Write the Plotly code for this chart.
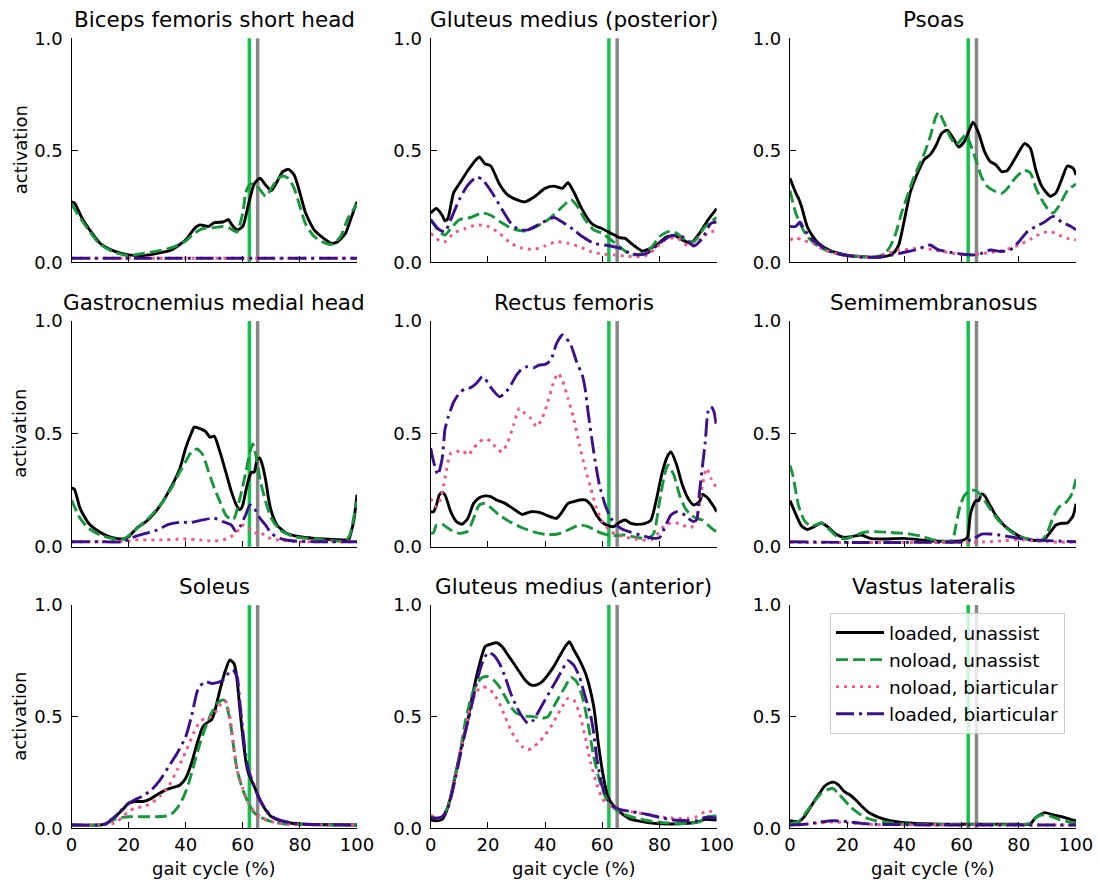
import plotly.graph_objects as go

# ---------------------------------------------------------------------------
# Muscle activation over the gait cycle (% of stride), four conditions.
# lu = loaded, unassist   nu = noload, unassist
# nb = noload, biarticular lb = loaded, biarticular
# ---------------------------------------------------------------------------

muscles = [
    "Biceps femoris short head", "Gluteus medius (posterior)", "Psoas",
    "Gastrocnemius medial head", "Rectus femoris", "Semimembranosus",
    "Soleus", "Gluteus medius (anterior)", "Vastus lateralis",
]
condition_names = ["loaded, unassist", "noload, unassist",
                   "noload, biarticular", "loaded, biarticular"]

# toe-off markers (% gait cycle): noload, loaded
toe_off_pct = [62.3, 65.2]

x_ticks = [0, 20, 40, 60, 80, 100]
y_ticks = [0.0, 0.5, 1.0]
y_tick_text = ["0.0", "0.5", "1.0"]

# --- Biceps femoris short head ---
bfsh_lu_x = [0, 1, 4, 10, 15, 20, 25, 30, 35, 40, 43, 45, 48, 50, 53, 55, 56, 58, 60, 62, 64, 66, 68, 70, 72, 74, 76, 78, 80, 82, 85, 88, 91, 93, 96, 98, 100]
bfsh_lu_y = [0.27, 0.265, 0.19, 0.085, 0.05, 0.033, 0.03, 0.04, 0.055, 0.10, 0.15, 0.167, 0.16, 0.177, 0.18, 0.19, 0.17, 0.145, 0.16, 0.26, 0.35, 0.375, 0.345, 0.32, 0.36, 0.405, 0.415, 0.39, 0.31, 0.22, 0.145, 0.11, 0.085, 0.09, 0.13, 0.2, 0.27]
bfsh_nu_x = [0, 4, 10, 15, 20, 25, 30, 35, 40, 43, 46, 50, 53, 55, 57, 58, 60, 61, 62, 63, 65, 68, 70, 72, 74, 76, 78, 80, 82, 85, 88, 91, 94, 97, 100]
bfsh_nu_y = [0.26, 0.18, 0.08, 0.045, 0.03, 0.04, 0.05, 0.065, 0.095, 0.13, 0.15, 0.155, 0.16, 0.155, 0.14, 0.135, 0.22, 0.31, 0.34, 0.35, 0.34, 0.295, 0.33, 0.37, 0.385, 0.375, 0.33, 0.25, 0.17, 0.115, 0.09, 0.08, 0.11, 0.2, 0.26]
bfsh_nb_x = [0, 50, 100]
bfsh_nb_y = [0.018, 0.018, 0.018]
bfsh_lb_x = [0, 50, 100]
bfsh_lb_y = [0.018, 0.018, 0.018]

# --- Gluteus medius (posterior) ---
gmedp_lu_x = [0, 2, 4, 5, 6, 8, 10, 13, 16, 17, 19, 21, 24, 27, 30, 33, 36, 40, 43, 46, 48, 50, 53, 56, 58, 60, 63, 66, 68, 70, 74, 76, 79, 82, 85, 88, 91, 94, 97, 100]
gmedp_lu_y = [0.22, 0.24, 0.21, 0.185, 0.195, 0.31, 0.35, 0.41, 0.46, 0.47, 0.44, 0.43, 0.35, 0.30, 0.28, 0.27, 0.29, 0.33, 0.34, 0.33, 0.355, 0.315, 0.235, 0.177, 0.16, 0.15, 0.13, 0.11, 0.107, 0.085, 0.05, 0.058, 0.077, 0.11, 0.12, 0.10, 0.085, 0.13, 0.19, 0.24]
gmedp_nu_x = [0, 3, 5, 7, 10, 14, 18, 21, 25, 29, 33, 37, 41, 45, 49, 51, 54, 57, 60, 63, 66, 70, 74, 77, 80, 83, 86, 89, 92, 96, 100]
gmedp_nu_y = [0.19, 0.137, 0.122, 0.15, 0.19, 0.20, 0.22, 0.21, 0.175, 0.147, 0.14, 0.16, 0.19, 0.235, 0.28, 0.255, 0.19, 0.145, 0.13, 0.10, 0.07, 0.033, 0.04, 0.063, 0.115, 0.137, 0.13, 0.10, 0.092, 0.16, 0.2]
gmedp_nb_x = [0, 3, 5, 8, 12, 16, 20, 24, 28, 32, 36, 40, 44, 48, 52, 56, 60, 64, 68, 72, 75, 78, 82, 86, 90, 94, 97, 100]
gmedp_nb_y = [0.13, 0.097, 0.092, 0.13, 0.15, 0.167, 0.16, 0.13, 0.085, 0.063, 0.058, 0.073, 0.092, 0.085, 0.07, 0.048, 0.037, 0.033, 0.028, 0.025, 0.028, 0.055, 0.10, 0.11, 0.073, 0.1, 0.13, 0.145]
gmedp_lb_x = [0, 3, 5, 7, 10, 13, 16, 18, 21, 25, 28, 31, 34, 38, 43, 46, 50, 53, 57, 62, 66, 70, 73, 76, 80, 84, 88, 92, 95, 98, 100]
gmedp_lb_y = [0.19, 0.145, 0.137, 0.19, 0.28, 0.345, 0.38, 0.37, 0.32, 0.235, 0.175, 0.145, 0.145, 0.17, 0.20, 0.18, 0.145, 0.115, 0.085, 0.075, 0.063, 0.04, 0.033, 0.043, 0.085, 0.118, 0.115, 0.073, 0.107, 0.174, 0.18]

# --- Psoas ---
psoas_lu_x = [0, 2, 3, 4, 6, 8, 10, 14, 18, 22, 26, 30, 33, 36, 38, 40, 42, 44, 47, 49, 51, 53, 55, 57, 59, 61, 63, 64, 66, 68, 70, 72, 74, 76, 79, 82, 84, 86, 88, 91, 93, 95, 97, 99, 100]
psoas_lu_y = [0.375, 0.31, 0.285, 0.25, 0.16, 0.115, 0.085, 0.052, 0.037, 0.028, 0.025, 0.022, 0.025, 0.04, 0.077, 0.19, 0.31, 0.38, 0.46, 0.48, 0.52, 0.575, 0.59, 0.555, 0.515, 0.54, 0.60, 0.625, 0.575, 0.495, 0.45, 0.435, 0.405, 0.41, 0.47, 0.53, 0.51, 0.41, 0.34, 0.295, 0.31, 0.37, 0.43, 0.42, 0.39]
psoas_nu_x = [0, 2, 4, 6, 10, 14, 20, 26, 30, 33, 35, 37, 39, 41, 43, 45, 47, 49, 51, 52, 54, 56, 58, 60, 61.5, 63, 65, 67, 69, 72, 74, 76, 79, 82, 84, 86, 88, 90, 92, 94, 97, 100]
psoas_nu_y = [0.32, 0.22, 0.16, 0.115, 0.07, 0.048, 0.03, 0.025, 0.025, 0.037, 0.07, 0.13, 0.22, 0.295, 0.37, 0.43, 0.487, 0.56, 0.65, 0.67, 0.62, 0.56, 0.525, 0.55, 0.57, 0.53, 0.457, 0.38, 0.338, 0.315, 0.308, 0.33, 0.38, 0.41, 0.40, 0.33, 0.28, 0.24, 0.22, 0.25, 0.32, 0.35]
psoas_nb_x = [0, 2, 4, 8, 12, 18, 24, 30, 34, 38, 42, 46, 50, 55, 60, 65, 70, 75, 80, 84, 88, 91, 94, 97, 100]
psoas_nb_y = [0.1, 0.11, 0.10, 0.085, 0.055, 0.033, 0.025, 0.025, 0.04, 0.055, 0.058, 0.067, 0.055, 0.045, 0.034, 0.037, 0.043, 0.055, 0.077, 0.103, 0.13, 0.137, 0.122, 0.107, 0.1]
psoas_lb_x = [0, 2, 3.5, 5, 8, 12, 16, 20, 26, 32, 36, 40, 44, 47, 49, 52, 56, 60, 64, 67, 70, 74, 77, 80, 83, 86, 89, 92, 95, 98, 100]
psoas_lb_y = [0.16, 0.16, 0.18, 0.145, 0.10, 0.063, 0.04, 0.03, 0.022, 0.025, 0.033, 0.045, 0.055, 0.07, 0.077, 0.055, 0.045, 0.037, 0.033, 0.04, 0.055, 0.048, 0.055, 0.092, 0.137, 0.16, 0.18, 0.205, 0.18, 0.162, 0.145]

# --- Gastrocnemius medial head ---
gasmed_lu_x = [0, 1, 3, 6, 10, 14, 18, 20, 23, 26, 29, 32, 35, 38, 40, 42, 43, 45, 47, 48.5, 50, 52, 54, 56, 58, 59, 60, 61, 62, 63, 64, 65, 66, 67, 68, 69, 70, 72, 75, 80, 85, 90, 95, 97, 98, 99, 100]
gasmed_lu_y = [0.26, 0.255, 0.17, 0.104, 0.064, 0.041, 0.034, 0.044, 0.084, 0.11, 0.148, 0.20, 0.267, 0.348, 0.437, 0.504, 0.53, 0.523, 0.51, 0.485, 0.49, 0.42, 0.333, 0.244, 0.178, 0.163, 0.185, 0.244, 0.296, 0.33, 0.33, 0.385, 0.393, 0.355, 0.296, 0.215, 0.156, 0.096, 0.062, 0.044, 0.037, 0.033, 0.03, 0.03, 0.067, 0.126, 0.23]
gasmed_nu_x = [0, 3, 6, 10, 14, 18, 21, 24, 28, 32, 35, 38, 40, 42, 44, 46, 48, 50, 52, 54, 56, 57, 59, 61, 62.5, 63.5, 65, 66, 68, 70, 73, 78, 85, 93, 96, 97.5, 99, 100]
gasmed_nu_y = [0.207, 0.126, 0.081, 0.052, 0.037, 0.031, 0.059, 0.093, 0.138, 0.20, 0.26, 0.333, 0.378, 0.42, 0.433, 0.407, 0.333, 0.26, 0.20, 0.141, 0.119, 0.126, 0.215, 0.326, 0.42, 0.455, 0.378, 0.30, 0.20, 0.126, 0.074, 0.044, 0.034, 0.025, 0.025, 0.052, 0.14, 0.2]
gasmed_nb_x = [0, 20, 22, 30, 40, 45, 50, 55, 58, 60, 62, 64, 66, 68, 72, 80, 100]
gasmed_nb_y = [0.022, 0.025, 0.03, 0.03, 0.034, 0.03, 0.025, 0.037, 0.067, 0.096, 0.084, 0.059, 0.067, 0.044, 0.03, 0.022, 0.022]
gasmed_lb_x = [0, 10, 18, 22, 26, 30, 34, 38, 42, 46, 50, 53, 56, 57.5, 59, 61, 62.5, 64, 66, 68, 70, 73, 78, 85, 100]
gasmed_lb_y = [0.022, 0.022, 0.022, 0.044, 0.059, 0.074, 0.099, 0.108, 0.108, 0.119, 0.126, 0.111, 0.096, 0.07, 0.089, 0.141, 0.185, 0.17, 0.126, 0.096, 0.059, 0.037, 0.025, 0.022, 0.022]

# --- Rectus femoris ---
recfem_lu_x = [0, 1, 2, 3, 4, 5, 7, 9, 11, 13, 15, 17, 19, 21, 23, 26, 29, 32, 35, 38, 41, 44, 46, 48, 50, 52, 54, 56, 58, 60, 62, 64, 66, 68, 70, 72, 75, 77, 79, 81, 83, 84, 86, 88, 90, 92, 94, 95, 97, 99, 100]
recfem_lu_y = [0.155, 0.155, 0.185, 0.229, 0.24, 0.229, 0.155, 0.111, 0.10, 0.126, 0.192, 0.217, 0.225, 0.222, 0.207, 0.192, 0.167, 0.143, 0.155, 0.152, 0.137, 0.126, 0.155, 0.192, 0.20, 0.207, 0.207, 0.185, 0.14, 0.108, 0.093, 0.089, 0.108, 0.118, 0.103, 0.099, 0.103, 0.118, 0.214, 0.332, 0.406, 0.42, 0.362, 0.273, 0.214, 0.185, 0.20, 0.232, 0.214, 0.177, 0.155]
recfem_nu_x = [0, 1, 2, 4, 7, 10, 13, 15, 17, 19, 21, 24, 28, 32, 36, 40, 44, 48, 52, 55, 58, 61, 64, 68, 72, 76, 78, 80, 82, 83, 85, 87, 89, 91, 93, 95, 97, 99, 100]
recfem_nu_y = [0.059, 0.062, 0.096, 0.099, 0.074, 0.059, 0.069, 0.126, 0.185, 0.192, 0.173, 0.14, 0.108, 0.084, 0.066, 0.055, 0.055, 0.074, 0.096, 0.089, 0.069, 0.055, 0.049, 0.052, 0.041, 0.037, 0.059, 0.20, 0.332, 0.362, 0.318, 0.229, 0.17, 0.14, 0.126, 0.118, 0.096, 0.074, 0.066]
recfem_nb_x = [0, 2, 3.5, 5, 7, 9, 11, 13, 15, 17, 19, 21, 23, 25, 27, 29, 31, 33, 35, 37, 39, 41, 43, 44.5, 46, 48, 50, 52, 54, 56, 58, 60, 63, 66, 70, 74, 77, 79, 82, 85, 88, 91, 93, 95, 96.5, 98, 100]
recfem_nb_y = [0.214, 0.177, 0.214, 0.303, 0.414, 0.42, 0.428, 0.406, 0.436, 0.465, 0.477, 0.468, 0.436, 0.42, 0.465, 0.54, 0.613, 0.59, 0.569, 0.532, 0.569, 0.643, 0.73, 0.768, 0.739, 0.657, 0.569, 0.45, 0.347, 0.258, 0.17, 0.111, 0.066, 0.049, 0.037, 0.03, 0.03, 0.052, 0.096, 0.108, 0.096, 0.084, 0.126, 0.273, 0.347, 0.303, 0.258]
recfem_lb_x = [0, 1, 2.5, 4, 5, 6, 8, 10, 12, 14, 16, 18, 19, 20, 22, 24, 26, 28, 30, 32, 34, 36, 38, 40, 42, 44, 46, 47, 49, 51, 53, 54, 55, 57, 59, 61, 63, 65, 67, 70, 74, 78, 80, 82, 84, 86, 88, 90, 92, 93, 94, 96, 97, 98, 99, 100]
recfem_lb_y = [0.436, 0.377, 0.318, 0.39, 0.52, 0.57, 0.64, 0.68, 0.70, 0.705, 0.724, 0.753, 0.746, 0.724, 0.69, 0.665, 0.68, 0.716, 0.76, 0.79, 0.798, 0.793, 0.805, 0.808, 0.827, 0.90, 0.938, 0.93, 0.894, 0.82, 0.76, 0.70, 0.60, 0.42, 0.273, 0.185, 0.126, 0.096, 0.077, 0.064, 0.049, 0.037, 0.04, 0.089, 0.14, 0.155, 0.148, 0.126, 0.111, 0.12, 0.244, 0.465, 0.60, 0.62, 0.60, 0.524]

# --- Semimembranosus ---
semimem_lu_x = [0, 2, 4, 6, 8, 11, 13, 16, 19, 22, 25, 28, 32, 40, 48, 52, 56, 60, 62, 63, 64, 65, 66, 67, 68, 70, 72, 75, 78, 81, 84, 87, 89, 91, 93, 95, 97, 99, 100]
semimem_lu_y = [0.204, 0.145, 0.093, 0.076, 0.086, 0.105, 0.09, 0.056, 0.041, 0.046, 0.052, 0.037, 0.034, 0.037, 0.027, 0.024, 0.024, 0.027, 0.041, 0.138, 0.182, 0.204, 0.204, 0.234, 0.227, 0.182, 0.138, 0.093, 0.064, 0.041, 0.031, 0.027, 0.034, 0.064, 0.096, 0.104, 0.105, 0.138, 0.19]
semimem_nu_x = [0, 1, 3, 5, 7, 9, 11, 13, 16, 19, 22, 26, 30, 34, 38, 42, 46, 50, 54, 56, 57, 58, 59.5, 61, 63, 65, 67, 70, 73, 76, 79, 82, 85, 88, 90, 92, 94, 96, 98, 99, 100]
semimem_nu_y = [0.36, 0.316, 0.182, 0.116, 0.093, 0.096, 0.105, 0.086, 0.049, 0.034, 0.046, 0.064, 0.067, 0.064, 0.061, 0.056, 0.046, 0.031, 0.024, 0.022, 0.034, 0.093, 0.182, 0.227, 0.249, 0.249, 0.224, 0.167, 0.116, 0.079, 0.052, 0.037, 0.031, 0.027, 0.064, 0.13, 0.175, 0.19, 0.22, 0.25, 0.30]
semimem_nb_x = [0, 60, 70, 75, 80, 85, 90, 100]
semimem_nb_y = [0.019, 0.019, 0.022, 0.027, 0.031, 0.027, 0.022, 0.019]
semimem_lb_x = [0, 20, 40, 60, 64, 67, 70, 73, 76, 80, 84, 90, 100]
semimem_lb_y = [0.022, 0.019, 0.019, 0.022, 0.034, 0.056, 0.056, 0.052, 0.046, 0.037, 0.031, 0.027, 0.022]

# --- Soleus ---
soleus_lu_x = [0, 10, 12, 14, 16, 18, 20, 22, 25, 27, 30, 33, 36, 38, 40, 42, 44, 46, 48, 49, 50, 52, 54, 55.5, 57, 58, 59, 60, 61, 62, 64, 66, 68, 70, 73, 76, 80, 90, 100]
soleus_lu_y = [0.015, 0.015, 0.02, 0.037, 0.06, 0.085, 0.112, 0.12, 0.12, 0.127, 0.15, 0.172, 0.184, 0.194, 0.224, 0.29, 0.38, 0.455, 0.478, 0.485, 0.515, 0.62, 0.71, 0.754, 0.736, 0.664, 0.53, 0.41, 0.306, 0.246, 0.187, 0.127, 0.082, 0.052, 0.034, 0.025, 0.019, 0.016, 0.015]
soleus_nu_x = [0, 10, 12, 14, 16, 18, 20, 25, 30, 33, 35, 37, 39, 41, 43, 45, 47, 49, 51, 53, 54, 55, 56, 57, 58, 60, 62, 64, 67, 70, 75, 100]
soleus_nu_y = [0.015, 0.015, 0.02, 0.034, 0.045, 0.049, 0.052, 0.052, 0.052, 0.055, 0.064, 0.09, 0.134, 0.20, 0.29, 0.38, 0.455, 0.515, 0.56, 0.575, 0.567, 0.515, 0.44, 0.343, 0.261, 0.172, 0.112, 0.07, 0.045, 0.03, 0.019, 0.015]
soleus_nb_x = [0, 12, 14, 16, 18, 20, 22, 25, 28, 31, 34, 37, 40, 43, 45, 47, 49, 51, 53, 54, 55, 56, 57, 58, 60, 62, 64, 67, 70, 75, 85, 100]
soleus_nb_y = [0.015, 0.017, 0.02, 0.03, 0.052, 0.075, 0.09, 0.097, 0.112, 0.145, 0.187, 0.261, 0.343, 0.433, 0.478, 0.493, 0.50, 0.53, 0.57, 0.567, 0.53, 0.455, 0.35, 0.261, 0.179, 0.112, 0.075, 0.045, 0.03, 0.019, 0.016, 0.015]
soleus_lb_x = [0, 10, 12, 14, 16, 18, 20, 22, 25, 28, 31, 34, 37, 40, 42, 44, 45, 47, 49, 51, 53, 55, 56.5, 58, 59, 60, 61, 62, 64, 66, 68, 70, 73, 76, 80, 90, 100]
soleus_lb_y = [0.015, 0.015, 0.02, 0.04, 0.06, 0.09, 0.112, 0.127, 0.145, 0.172, 0.216, 0.276, 0.336, 0.41, 0.50, 0.612, 0.637, 0.657, 0.649, 0.652, 0.664, 0.694, 0.709, 0.679, 0.56, 0.44, 0.328, 0.261, 0.19, 0.127, 0.085, 0.055, 0.037, 0.027, 0.02, 0.016, 0.015]

# --- Gluteus medius (anterior) ---
gmeda_lu_x = [0, 2, 4, 5, 7, 9, 11, 13, 15, 17, 19, 21, 23, 25, 27, 29, 31, 33, 35, 37, 39, 41, 43, 45, 47, 48.5, 50, 52, 54.5, 57, 58.6, 60.4, 62, 64, 66, 68, 70, 74, 78, 84, 90, 93, 96, 100]
gmeda_lu_y = [0.037, 0.034, 0.04, 0.06, 0.142, 0.261, 0.38, 0.485, 0.62, 0.731, 0.813, 0.825, 0.831, 0.813, 0.776, 0.739, 0.701, 0.664, 0.642, 0.642, 0.657, 0.687, 0.724, 0.769, 0.813, 0.836, 0.80, 0.754, 0.68, 0.545, 0.38, 0.23, 0.14, 0.1, 0.075, 0.055, 0.04, 0.03, 0.022, 0.019, 0.022, 0.027, 0.04, 0.037]
gmeda_nu_x = [0, 2, 4, 6, 8, 10, 12, 14, 16, 18, 20, 22, 24, 26, 28, 30, 33, 36, 39, 41, 43, 45, 47, 49, 51, 53, 55, 57, 59, 61, 63, 65, 68, 72, 76, 80, 85, 90, 94, 97, 100]
gmeda_nu_y = [0.052, 0.045, 0.052, 0.097, 0.2, 0.32, 0.47, 0.58, 0.645, 0.675, 0.679, 0.664, 0.634, 0.59, 0.545, 0.515, 0.503, 0.50, 0.493, 0.50, 0.545, 0.59, 0.634, 0.676, 0.657, 0.59, 0.47, 0.321, 0.216, 0.142, 0.104, 0.082, 0.06, 0.045, 0.034, 0.027, 0.022, 0.022, 0.03, 0.052, 0.055]
gmeda_nb_x = [0, 2, 4, 6, 8, 10, 12, 14, 16, 18, 20, 22, 24, 26, 28, 30, 32, 34, 36, 38, 40, 42, 44, 46, 48, 50, 52, 54, 56, 58, 60, 62, 64, 67, 70, 75, 80, 85, 90, 93, 96, 98, 100]
gmeda_nb_y = [0.06, 0.045, 0.052, 0.09, 0.2, 0.32, 0.44, 0.545, 0.612, 0.634, 0.627, 0.604, 0.56, 0.50, 0.44, 0.396, 0.366, 0.351, 0.366, 0.388, 0.418, 0.455, 0.50, 0.545, 0.582, 0.575, 0.515, 0.41, 0.291, 0.2, 0.134, 0.104, 0.09, 0.082, 0.075, 0.064, 0.052, 0.045, 0.045, 0.052, 0.075, 0.075, 0.067]
gmeda_lb_x = [0, 2, 4, 6, 8, 10, 12, 14, 16, 18, 20, 22, 24, 26, 28, 30, 32, 34, 36, 38, 40, 42, 44, 46, 48, 50, 52, 54, 56, 57, 58, 59, 60, 62, 64, 66, 70, 75, 80, 85, 90, 93, 96, 100]
gmeda_lb_y = [0.049, 0.045, 0.052, 0.09, 0.187, 0.306, 0.425, 0.53, 0.65, 0.739, 0.787, 0.776, 0.739, 0.679, 0.604, 0.545, 0.50, 0.47, 0.485, 0.53, 0.575, 0.62, 0.664, 0.709, 0.751, 0.731, 0.679, 0.59, 0.50, 0.425, 0.321, 0.246, 0.187, 0.127, 0.097, 0.085, 0.075, 0.064, 0.049, 0.037, 0.034, 0.034, 0.049, 0.045]

# --- Vastus lateralis ---
vaslat_lu_x = [0, 3, 5, 8, 10, 12, 14, 15.5, 17, 19, 21, 23, 25, 28, 31, 35, 40, 50, 60, 70, 80, 84, 86, 89, 92, 95, 98, 100]
vaslat_lu_y = [0.034, 0.03, 0.052, 0.112, 0.149, 0.187, 0.204, 0.206, 0.194, 0.164, 0.149, 0.127, 0.1, 0.067, 0.049, 0.034, 0.025, 0.019, 0.018, 0.018, 0.018, 0.019, 0.049, 0.07, 0.06, 0.052, 0.04, 0.034]
vaslat_nu_x = [0, 3, 5, 8, 11, 13, 15, 17, 19, 21, 24, 27, 30, 35, 40, 60, 80, 83, 85, 88, 91, 94, 97, 100]
vaslat_nu_y = [0.022, 0.03, 0.06, 0.112, 0.157, 0.172, 0.179, 0.154, 0.127, 0.097, 0.067, 0.045, 0.034, 0.025, 0.019, 0.017, 0.017, 0.02, 0.04, 0.06, 0.055, 0.04, 0.03, 0.022]
vaslat_nb_x = [0, 5, 10, 15, 20, 25, 30, 50, 100]
vaslat_nb_y = [0.015, 0.017, 0.024, 0.028, 0.025, 0.02, 0.017, 0.015, 0.015]
vaslat_lb_x = [0, 5, 10, 15, 20, 25, 30, 50, 100]
vaslat_lb_y = [0.015, 0.018, 0.027, 0.034, 0.03, 0.022, 0.018, 0.015, 0.015]

panel_series = [
    [(bfsh_lu_x, bfsh_lu_y), (bfsh_nu_x, bfsh_nu_y), (bfsh_nb_x, bfsh_nb_y), (bfsh_lb_x, bfsh_lb_y)],
    [(gmedp_lu_x, gmedp_lu_y), (gmedp_nu_x, gmedp_nu_y), (gmedp_nb_x, gmedp_nb_y), (gmedp_lb_x, gmedp_lb_y)],
    [(psoas_lu_x, psoas_lu_y), (psoas_nu_x, psoas_nu_y), (psoas_nb_x, psoas_nb_y), (psoas_lb_x, psoas_lb_y)],
    [(gasmed_lu_x, gasmed_lu_y), (gasmed_nu_x, gasmed_nu_y), (gasmed_nb_x, gasmed_nb_y), (gasmed_lb_x, gasmed_lb_y)],
    [(recfem_lu_x, recfem_lu_y), (recfem_nu_x, recfem_nu_y), (recfem_nb_x, recfem_nb_y), (recfem_lb_x, recfem_lb_y)],
    [(semimem_lu_x, semimem_lu_y), (semimem_nu_x, semimem_nu_y), (semimem_nb_x, semimem_nb_y), (semimem_lb_x, semimem_lb_y)],
    [(soleus_lu_x, soleus_lu_y), (soleus_nu_x, soleus_nu_y), (soleus_nb_x, soleus_nb_y), (soleus_lb_x, soleus_lb_y)],
    [(gmeda_lu_x, gmeda_lu_y), (gmeda_nu_x, gmeda_nu_y), (gmeda_nb_x, gmeda_nb_y), (gmeda_lb_x, gmeda_lb_y)],
    [(vaslat_lu_x, vaslat_lu_y), (vaslat_nu_x, vaslat_nu_y), (vaslat_nb_x, vaslat_nb_y), (vaslat_lb_x, vaslat_lb_y)],
]

# ---------------------------------------------------------------------------
# Styling
# ---------------------------------------------------------------------------
FONT = "DejaVu Sans"
W, H = 1100, 882
line_styles = [
    dict(color="#000000", width=2.9, dash="solid"),
    dict(color="#17973b", width=2.9, dash="12px,5px"),
    dict(color="#f5528e", width=2.9, dash="3px,5px"),
    dict(color="#3e0f8a", width=2.9, dash="18px,5px,3px,5px"),
]
toe_off_colors = ["#14c24c", "#888888"]

# pixel extents of the panel columns / rows
col_px = [(71.5, 357.0), (430.7, 716.7), (790.0, 1076.0)]
row_px = [(38.3, 262.3), (321.0, 546.7), (605.0, 828.3)]

fig = go.Figure()
layout_axes = {}
annotations = []
shapes = []

for k, name in enumerate(muscles):
    r, c = divmod(k, 3)
    sfx = "" if k == 0 else str(k + 1)
    xa, ya = "x" + sfx, "y" + sfx
    x0, x1 = col_px[c]
    y0, y1 = row_px[r]

    axis_common = dict(
        showline=True, linecolor="black", linewidth=1.2, mirror=False,
        ticks="inside", ticklen=6, tickwidth=1.2, tickcolor="black",
        showgrid=False, zeroline=False, automargin=False,
        tickfont=dict(family=FONT, size=18, color="black"),
    )
    layout_axes["xaxis" + sfx] = dict(
        axis_common, domain=[x0 / W, x1 / W], anchor=ya, range=[0, 100],
        tickvals=x_ticks, showticklabels=(r == 2),
    )
    layout_axes["yaxis" + sfx] = dict(
        axis_common, domain=[1 - y1 / H, 1 - y0 / H], anchor=xa, range=[0, 1],
        tickvals=y_ticks, ticktext=y_tick_text, ticklabelstandoff=4,
    )

    # toe-off markers
    for pos, col in zip(toe_off_pct, toe_off_colors):
        shapes.append(dict(
            type="line", xref=xa, yref=ya + " domain", x0=pos, x1=pos, y0=0, y1=1,
            line=dict(color=col, width=3.5), layer="below",
        ))

    for (sx, sy), style, cond in zip(panel_series[k], line_styles, condition_names):
        fig.add_trace(go.Scatter(
            x=sx, y=sy, mode="lines", name=cond, xaxis=xa, yaxis=ya,
            line=dict(style, shape="spline", smoothing=0.6),
            showlegend=(k == 0), hoverinfo="skip",
        ))

    annotations.append(dict(
        text=name, xref="paper", yref="paper", x=(x0 + x1) / 2 / W,
        y=1 - y0 / H + 4 / H, xanchor="center", yanchor="bottom", showarrow=False,
        font=dict(family=FONT, size=21.5, color="black"),
    ))
    if c == 0:
        annotations.append(dict(
            text="activation", xref="paper", yref="paper", x=20 / W,
            y=1 - (y0 + y1) / 2 / H, xanchor="center", yanchor="middle",
            textangle=-90, showarrow=False,
            font=dict(family=FONT, size=18, color="black"),
        ))
    if r == 2:
        annotations.append(dict(
            text="gait cycle (%)", xref="paper", yref="paper", x=(x0 + x1) / 2 / W,
            y=1 - 868 / H, xanchor="center", yanchor="middle", showarrow=False,
            font=dict(family=FONT, size=18, color="black"),
        ))

fig.update_layout(
    template="none",
    width=W, height=H, autosize=False,
    margin=dict(l=0, r=0, t=0, b=0, autoexpand=False),
    paper_bgcolor="white", plot_bgcolor="white",
    font=dict(family=FONT, size=18, color="black"),
    annotations=annotations, shapes=shapes,
    legend=dict(
        x=830 / W, y=1 - 613 / H, xanchor="left", yanchor="top",
        bgcolor="rgba(255,255,255,0.8)", bordercolor="#cccccc", borderwidth=1,
        font=dict(family=FONT, size=18.5, color="black"), itemwidth=48,
    ),
    **layout_axes,
)

fig.write_html("out.html")
